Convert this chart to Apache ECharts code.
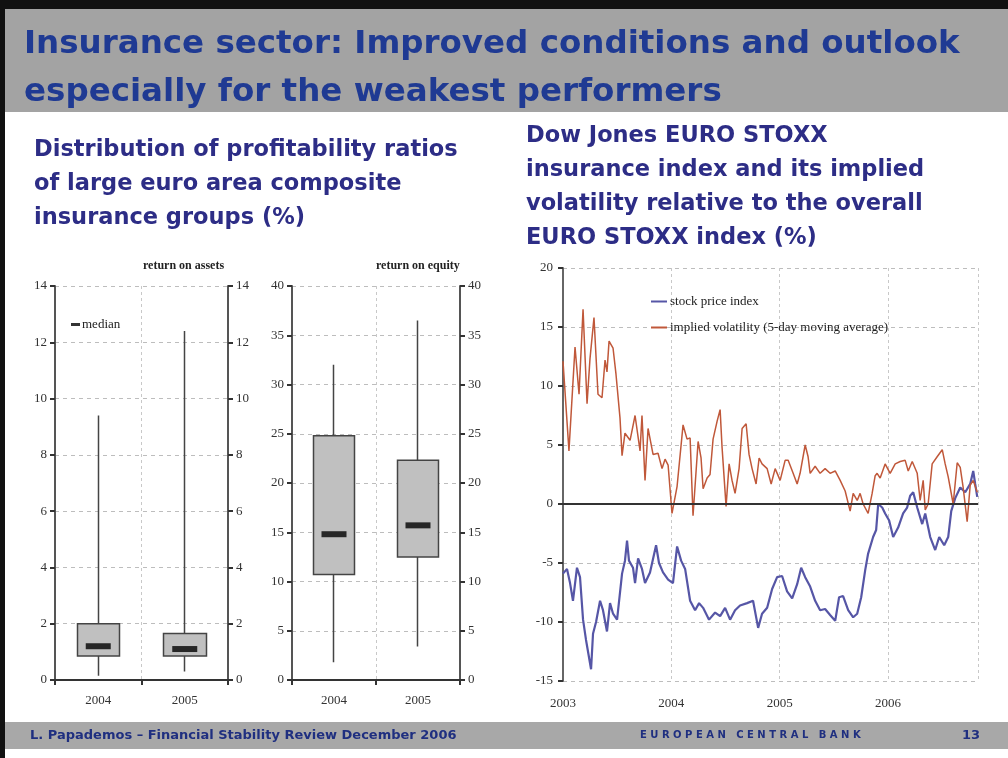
<!DOCTYPE html>
<html>
<head>
<meta charset="utf-8">
<script src="https://cdn.jsdelivr.net/npm/echarts@6/dist/echarts.min.js"></script>
<style>
  html, body { margin: 0; padding: 0; background: #fff; }
  #main { width: 1008px; height: 758px; }
</style>
</head>
<body>
<div id="main"></div>
<script>
// box plot data: [min, q1, median, q3, max]
var boxYears = ['2004', '2005'];
var roaMin = [0.15, 0.3];
var roaQ1 = [0.85, 0.85];
var roaMedian = [1.2, 1.1];
var roaQ3 = [2.0, 1.65];
var roaMax = [9.4, 12.4];

var roeMin = [1.8, 3.4];
var roeQ1 = [10.7, 12.5];
var roeMedian = [14.8, 15.7];
var roeQ3 = [24.8, 22.3];
var roeMax = [32.0, 36.5];

var yearTicks = [2003, 2004, 2005, 2006];

// [decimal year, %]
var stockIndex = [
  [2003.000,-5.9],[2003.037,-5.5],[2003.065,-6.7],[2003.092,-8.2],[2003.129,-5.4],[2003.157,-6.2],
  [2003.185,-9.8],[2003.212,-11.5],[2003.259,-14.0],[2003.277,-11.0],[2003.305,-10.0],[2003.342,-8.2],
  [2003.369,-9.0],[2003.406,-10.8],[2003.434,-8.4],[2003.462,-9.3],[2003.499,-9.8],[2003.545,-5.9],
  [2003.572,-4.8],[2003.591,-3.1],[2003.609,-4.8],[2003.646,-5.4],[2003.665,-6.7],[2003.693,-4.6],
  [2003.729,-5.5],[2003.757,-6.7],[2003.803,-5.8],[2003.859,-3.5],[2003.886,-5.0],[2003.923,-5.8],
  [2003.970,-6.4],[2004.015,-6.7],[2004.053,-3.6],[2004.090,-4.8],[2004.127,-5.5],[2004.173,-8.2],
  [2004.219,-9.0],[2004.256,-8.4],[2004.293,-8.8],[2004.348,-9.8],[2004.404,-9.2],[2004.450,-9.5],
  [2004.496,-8.8],[2004.542,-9.8],[2004.588,-9.0],[2004.634,-8.6],[2004.699,-8.4],[2004.754,-8.2],
  [2004.801,-10.5],[2004.837,-9.3],[2004.884,-8.8],[2004.930,-7.2],[2004.976,-6.2],[2005.022,-6.1],
  [2005.068,-7.4],[2005.115,-8.0],[2005.161,-6.8],[2005.198,-5.4],[2005.235,-6.2],[2005.281,-7.0],
  [2005.327,-8.2],[2005.373,-9.0],[2005.419,-8.9],[2005.465,-9.4],[2005.512,-9.9],[2005.548,-7.9],
  [2005.585,-7.8],[2005.632,-9.0],[2005.678,-9.6],[2005.715,-9.3],[2005.752,-7.9],[2005.789,-5.6],
  [2005.816,-4.2],[2005.862,-2.8],[2005.890,-2.2],[2005.909,0.0],[2005.946,-0.3],[2005.973,-0.8],
  [2006.010,-1.4],[2006.047,-2.8],[2006.093,-2.0],[2006.139,-0.8],[2006.176,-0.3],[2006.204,0.7],
  [2006.232,1.0],[2006.269,-0.3],[2006.315,-1.7],[2006.343,-0.8],[2006.389,-2.8],[2006.435,-3.9],
  [2006.472,-2.8],[2006.518,-3.5],[2006.555,-2.8],[2006.583,-0.6],[2006.620,0.5],[2006.666,1.4],
  [2006.712,1.0],[2006.758,1.7],[2006.786,2.8],[2006.804,1.7],[2006.823,0.6]
];

var impliedVol = [
  [2003.000,12.1],[2003.055,4.5],[2003.111,13.3],[2003.148,9.3],[2003.185,16.5],[2003.222,8.5],
  [2003.249,12.3],[2003.286,15.8],[2003.323,9.3],[2003.360,9.0],[2003.388,12.2],[2003.406,11.2],
  [2003.425,13.8],[2003.462,13.2],[2003.489,11.0],[2003.526,7.3],[2003.545,4.1],[2003.572,6.0],
  [2003.619,5.4],[2003.665,7.5],[2003.711,4.5],[2003.729,7.5],[2003.757,2.0],[2003.785,6.4],
  [2003.831,4.2],[2003.877,4.3],[2003.914,3.0],[2003.942,3.8],[2003.970,3.3],[2004.006,-0.8],
  [2004.053,1.5],[2004.108,6.7],[2004.145,5.5],[2004.173,5.6],[2004.200,-1.0],[2004.247,5.3],
  [2004.274,3.9],[2004.293,1.3],[2004.330,2.2],[2004.357,2.5],[2004.385,5.5],[2004.422,7.0],
  [2004.450,8.0],[2004.468,4.8],[2004.505,-0.2],[2004.533,3.4],[2004.560,2.0],[2004.588,0.9],
  [2004.625,3.0],[2004.653,6.4],[2004.690,6.8],[2004.717,4.2],[2004.745,3.0],[2004.782,1.7],
  [2004.810,3.9],[2004.837,3.4],[2004.884,3.0],[2004.921,1.7],[2004.958,3.0],[2005.004,2.0],
  [2005.050,3.7],[2005.078,3.7],[2005.124,2.6],[2005.161,1.7],[2005.188,2.6],[2005.235,5.0],
  [2005.262,4.0],[2005.281,2.6],[2005.327,3.2],[2005.373,2.6],[2005.419,3.0],[2005.465,2.6],
  [2005.512,2.8],[2005.558,2.0],[2005.604,1.1],[2005.650,-0.6],[2005.678,0.9],[2005.715,0.3],
  [2005.742,0.9],[2005.770,0.0],[2005.816,-0.8],[2005.853,0.9],[2005.881,2.4],[2005.899,2.6],
  [2005.927,2.2],[2005.973,3.4],[2006.019,2.6],[2006.066,3.4],[2006.112,3.6],[2006.158,3.7],
  [2006.186,2.8],[2006.223,3.6],[2006.269,2.6],[2006.296,0.3],[2006.324,2.0],[2006.343,-0.5],
  [2006.370,0.0],[2006.407,3.4],[2006.453,4.0],[2006.500,4.6],[2006.527,3.4],[2006.555,2.3],
  [2006.601,0.0],[2006.638,3.5],[2006.666,3.1],[2006.693,1.4],[2006.730,-1.5],[2006.758,1.6],
  [2006.786,2.0],[2006.823,1.0]
];

var serif = 'Liberation Serif';
var axisCol = '#555';
var gridDash = { show: true, lineStyle: { color: '#bdbdbd', type: [4, 4], width: 1 } };

function boxRows(q1, q3, mn, mx) {
  var out = [];
  for (var i = 0; i < q1.length; i++) out.push([q1[i], q3[i], mn[i], mx[i]]);
  return out;
}

function catAxis(gi) {
  return {
    type: 'category', gridIndex: gi, data: boxYears,
    axisLine: { lineStyle: { color: '#333', width: 2 } },
    axisTick: { show: true, length: 5, lineStyle: { color: '#333', width: 2 } },
    axisLabel: { fontFamily: serif, fontSize: 13, color: '#333', margin: 14 },
    splitLine: { show: true, interval: 0, lineStyle: { color: '#c8c8c8', type: [3, 3] } }
  };
}

function valAxis(gi, max, iv, pos, grid) {
  return {
    type: 'value', gridIndex: gi, min: 0, max: max, interval: iv, position: pos,
    axisLine: { show: true, lineStyle: { color: axisCol, width: 2 } },
    axisTick: { show: true, length: 5, lineStyle: { color: '#333', width: 2 } },
    axisLabel: { fontFamily: serif, fontSize: 13, color: '#333', margin: 8 },
    splitLine: grid ? gridDash : { show: false }
  };
}

var chart = echarts.init(document.getElementById('main'));

var headFont = '"DejaVu Sans"';

chart.setOption({
  animation: false,
  backgroundColor: '#fff',
  graphic: [
    { type: 'rect', shape: { x: 0, y: 0, width: 1008, height: 9 }, style: { fill: '#111' } },
    { type: 'rect', shape: { x: 0, y: 0, width: 5, height: 758 }, style: { fill: '#111' } },
    { type: 'rect', shape: { x: 5, y: 9, width: 1003, height: 103 }, style: { fill: '#a3a3a3' } },
    { type: 'text', left: 24, top: 28, style: { text: 'Insurance sector: Improved conditions and outlook', font: 'bold 32.5px ' + headFont, fill: '#1f3a93' } },
    { type: 'text', left: 24, top: 76, style: { text: 'especially for the weakest performers', font: 'bold 32.5px ' + headFont, fill: '#1f3a93' } },
    { type: 'text', left: 34, top: 133, style: { text: 'Distribution of profitability ratios\nof large euro area composite\ninsurance groups (%)', font: 'bold 22.5px ' + headFont, fill: '#2d2d86', lineHeight: 34 } },
    { type: 'text', left: 526, top: 119, style: { text: 'Dow Jones EURO STOXX\ninsurance index and its implied\nvolatility relative to the overall\nEURO STOXX index (%)', font: 'bold 22.5px ' + headFont, fill: '#2d2d86', lineHeight: 34 } },
    { type: 'text', left: 143, top: 260, style: { text: 'return on assets', font: 'bold 12px "Liberation Serif"', fill: '#222', align: 'center' } },
    { type: 'text', left: 376, top: 260, style: { text: 'return on equity', font: 'bold 12px "Liberation Serif"', fill: '#222', align: 'center' } },
    { type: 'rect', shape: { x: 5, y: 722, width: 1003, height: 27 }, style: { fill: '#a8a8a8' } },
    { type: 'text', left: 30, top: 729, style: { text: 'L. Papademos \u2013 Financial Stability Review December 2006', font: 'bold 13px ' + headFont, fill: '#1f2f80' } },
    { type: 'text', left: 640, top: 730, style: { text: 'E U R O P E A N   C E N T R A L   B A N K', font: 'bold 10px "DejaVu Sans"', fill: '#1f2f80' } },
    { type: 'text', left: 962, top: 729, style: { text: '13', font: 'bold 13px ' + headFont, fill: '#1f2f80' } }
  ],
  legend: [
    {
      data: ['median'], left: 66, top: 313, icon: 'rect', itemWidth: 9, itemHeight: 3, itemGap: 4,
      textStyle: { fontFamily: serif, fontSize: 13, color: '#222', padding: [0, 0, 0, -3] }
    },
    {
      data: ['stock price index', 'implied volatility (5-day moving average)'],
      orient: 'vertical', left: 646, top: 290, icon: 'rect', itemWidth: 16, itemHeight: 2, itemGap: 13,
      textStyle: { fontFamily: serif, fontSize: 13, color: '#222', padding: [0, 0, 0, -2] }
    }
  ],
  grid: [
    { left: 55, top: 286, width: 173, height: 394 },
    { left: 292, top: 286, width: 168, height: 394 },
    { left: 563, top: 268, width: 415, height: 413 }
  ],
  xAxis: [
    catAxis(0),
    catAxis(1),
    {
      type: 'value', gridIndex: 2, min: 2003, max: 2006.83, interval: 1,
      axisLine: { show: true, lineStyle: { color: '#bbb', type: [3, 3] } },
      axisTick: { show: false },
      axisLabel: {
        fontFamily: serif, fontSize: 13, color: '#333', margin: 16,
        formatter: function (v) { return yearTicks.indexOf(v) >= 0 ? String(v) : ''; }
      },
      splitLine: { show: true, lineStyle: { color: '#c8c8c8', type: [3, 3] } }
    }
  ],
  yAxis: [
    valAxis(0, 14, 2, 'left', true),
    valAxis(0, 14, 2, 'right', false),
    valAxis(1, 40, 5, 'left', true),
    valAxis(1, 40, 5, 'right', false),
    {
      type: 'value', gridIndex: 2, min: -15, max: 20, interval: 5,
      axisLine: { show: true, lineStyle: { color: '#666', width: 2 } },
      axisTick: { show: true, length: 5, lineStyle: { color: '#333', width: 2 } },
      axisLabel: { fontFamily: serif, fontSize: 13, color: '#333', margin: 10 },
      splitLine: gridDash
    }
  ],
  series: [
    {
      type: 'candlestick', name: 'roa', xAxisIndex: 0, yAxisIndex: 0, barWidth: 43,
      itemStyle: { color: '#c0c0c0', borderColor: '#444', borderWidth: 1.5, color0: '#c0c0c0', borderColor0: '#444' },
      data: boxRows(roaQ1, roaQ3, roaMin, roaMax)
    },
    {
      type: 'scatter', name: 'median', xAxisIndex: 0, yAxisIndex: 0,
      symbol: 'rect', symbolSize: [25, 6], itemStyle: { color: '#000' },
      data: roaMedian
    },
    {
      type: 'candlestick', name: 'roe', xAxisIndex: 1, yAxisIndex: 2, barWidth: 41,
      itemStyle: { color: '#c0c0c0', borderColor: '#444', borderWidth: 1.5, color0: '#c0c0c0', borderColor0: '#444' },
      data: boxRows(roeQ1, roeQ3, roeMin, roeMax)
    },
    {
      type: 'scatter', name: 'median', xAxisIndex: 1, yAxisIndex: 2,
      symbol: 'rect', symbolSize: [25, 6], itemStyle: { color: '#000' },
      data: roeMedian
    },
    {
      type: 'line', name: 'stock price index', xAxisIndex: 2, yAxisIndex: 4,
      showSymbol: false, lineStyle: { color: '#5656a6', width: 2.2 }, itemStyle: { color: '#5656a6' },
      data: stockIndex,
      markLine: {
        silent: true, symbol: 'none', label: { show: false },
        lineStyle: { color: '#333', type: 'solid', width: 2 },
        data: [{ yAxis: 0 }]
      }
    },
    {
      type: 'line', name: 'implied volatility (5-day moving average)', xAxisIndex: 2, yAxisIndex: 4,
      showSymbol: false, lineStyle: { color: '#c0583a', width: 1.5 }, itemStyle: { color: '#c0583a' },
      data: impliedVol
    }
  ]
});
</script>
</body>
</html>
